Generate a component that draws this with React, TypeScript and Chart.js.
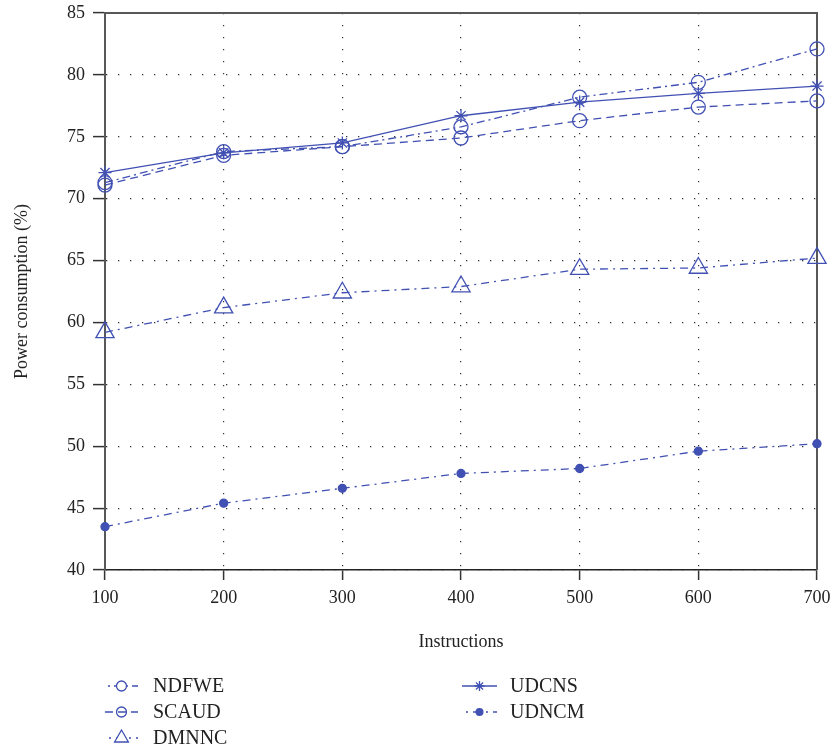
import React, { useEffect, useRef } from 'react';
import { Chart, registerables } from 'chart.js';

Chart.register(...registerables);

// ---- data ----
const instructions = [100, 200, 300, 400, 500, 600, 700];
const seriesNames = ['NDFWE', 'SCAUD', 'DMNNC', 'UDCNS', 'UDNCM'];
const ndfwe = [71.3, 73.8, 74.2, 75.8, 78.2, 79.4, 82.1];
const scaud = [71.1, 73.5, 74.2, 74.9, 76.3, 77.4, 77.9];
const dmnnc = [59.2, 61.2, 62.4, 62.9, 64.3, 64.4, 65.2];
const udcns = [72.1, 73.7, 74.5, 76.7, 77.8, 78.5, 79.1];
const udncm = [43.5, 45.4, 46.6, 47.8, 48.2, 49.6, 50.2];
const yMin = 40;
const yMax = 85;
const yStep = 5;
const xTitle = 'Instructions';
const yTitle = 'Power consumption (%)';

const BLUE = '#4050b3';
const FONT = '"Liberation Serif", "Times New Roman", serif';

type Sty = { dash: number[]; point: string; radius: number; filled: boolean; see?: boolean };
const styles: Sty[] = [
  { dash: [8, 4, 2, 4], point: 'circle', radius: 7, filled: false },
  { dash: [8, 5], point: 'circle', radius: 7, filled: false, see: true },
  { dash: [8, 5, 2, 5], point: 'triangle', radius: 10.5, filled: false },
  { dash: [], point: 'star', radius: 6.5, filled: false },
  { dash: [8, 5, 2, 5], point: 'circle', radius: 4, filled: true },
];
const values = [ndfwe, scaud, dmnnc, udcns, udncm];

function drawMarker(ctx: CanvasRenderingContext2D, s: Sty, x: number, y: number) {
  ctx.save();
  ctx.setLineDash([]);
  ctx.strokeStyle = BLUE;
  ctx.fillStyle = BLUE;
  ctx.lineWidth = 1.3;
  const r = s.radius;
  ctx.beginPath();
  if (s.point === 'circle') {
    ctx.arc(x, y, r, 0, Math.PI * 2);
    if (s.filled) ctx.fill();
    else {
      if (!s.see) {
        ctx.fillStyle = '#fff';
        ctx.fill();
      }
      ctx.stroke();
    }
  } else if (s.point === 'triangle') {
    let a = 0;
    ctx.moveTo(x + Math.sin(a) * r, y - Math.cos(a) * r);
    a += (2 * Math.PI) / 3;
    ctx.lineTo(x + Math.sin(a) * r, y - Math.cos(a) * r);
    a += (2 * Math.PI) / 3;
    ctx.lineTo(x + Math.sin(a) * r, y - Math.cos(a) * r);
    ctx.closePath();
    ctx.fillStyle = '#fff';
    ctx.fill();
    ctx.stroke();
  } else if (s.point === 'star') {
    for (let i = 0; i < 4; i++) {
      const a = (i * Math.PI) / 4;
      ctx.moveTo(x - Math.cos(a) * r, y - Math.sin(a) * r);
      ctx.lineTo(x + Math.cos(a) * r, y + Math.sin(a) * r);
    }
    ctx.stroke();
  }
  ctx.restore();
}

const decorPlugin = {
  id: 'decor',
  beforeDatasetsDraw(chart: any) {
    const { ctx, chartArea: a } = chart;
    ctx.save();
    ctx.strokeStyle = '#585858';
    ctx.lineWidth = 2;
    ctx.beginPath();
    ctx.moveTo(a.left, a.top);
    ctx.lineTo(a.right, a.top);
    ctx.lineTo(a.right, a.bottom);
    ctx.stroke();
    ctx.restore();
  },
  afterDraw(chart: any) {
    const { ctx, chartArea: a } = chart;
    ctx.save();
    ctx.fillStyle = '#222';
    ctx.font = `18px ${FONT}`;
    ctx.textAlign = 'center';
    ctx.textBaseline = 'middle';
    ctx.fillText(xTitle, (a.left + a.right) / 2, 642);
    ctx.save();
    ctx.translate(22, (a.top + a.bottom) / 2);
    ctx.rotate(-Math.PI / 2);
    ctx.fillText(yTitle, 0, 0);
    ctx.restore();

    // legend
    const cols = [
      { x0: 105, x1: 138, tx: 153 },
      { x0: 462, x1: 497, tx: 510 },
    ];
    const rows = [686, 712, 738];
    const place = [
      [0, 0],
      [0, 1],
      [0, 2],
      [1, 0],
      [1, 1],
    ];
    ctx.textAlign = 'left';
    ctx.font = `20px ${FONT}`;
    seriesNames.forEach((name, i) => {
      const c = cols[place[i][0]];
      const y = rows[place[i][1]];
      const s = styles[i];
      ctx.save();
      ctx.strokeStyle = BLUE;
      ctx.lineWidth = 1.3;
      ctx.setLineDash(s.dash.length ? s.dash : []);
      ctx.lineDashOffset = s.dash.length === 4 ? 9 : 0;
      ctx.beginPath();
      ctx.moveTo(c.x0, y);
      ctx.lineTo(c.x1, y);
      ctx.stroke();
      ctx.restore();
      drawMarker(ctx, { ...s, radius: s.point === 'triangle' ? 8 : s.filled ? 4 : 5 }, (c.x0 + c.x1) / 2, y);
      ctx.fillStyle = '#222';
      ctx.fillText(name, c.tx, y + 1);
    });
    ctx.restore();
  },
};

export default function App() {
  const ref = useRef<HTMLCanvasElement | null>(null);
  useEffect(() => {
    if (!ref.current) return;
    const yTicks: number[] = [];
    for (let v = yMin; v <= yMax; v += yStep) yTicks.push(v);
    const chart = new Chart(ref.current, {
      type: 'line',
      data: {
        datasets: seriesNames.map((name, i) => ({
          label: name,
          data: instructions.map((x, j) => ({ x, y: values[i][j] })),
          borderColor: BLUE,
          borderWidth: 1.3,
          borderDash: styles[i].dash,
          pointStyle: styles[i].point as any,
          pointRadius: styles[i].radius,
          pointBorderWidth: 1.3,
          pointBorderColor: BLUE,
          pointBackgroundColor: styles[i].filled ? BLUE : 'rgba(0,0,0,0)',
          tension: 0,
          clip: false as any,
        })),
      },
      options: {
        responsive: false,
        animation: false,
        layout: { padding: { top: 13, right: 20, left: 0, bottom: 0 } },
        plugins: { legend: { display: false }, tooltip: { enabled: false } },
        scales: {
          x: {
            type: 'linear',
            min: 100,
            max: 700,
            afterFit: (s: any) => {
              s.height = 184;
              s.paddingLeft = 0;
              s.paddingRight = 0;
            },
            ticks: {
              stepSize: 100,
              color: '#222',
              font: { family: FONT, size: 18 },
              padding: 7,
            },
            grid: {
              color: '#333',
              lineWidth: 1.2,
              tickLength: 10,
              tickColor: '#333',
              tickWidth: 1.5,
              tickBorderDash: [],
            } as any,
            border: { display: true, color: '#222', width: 1.5, dash: [1.3, 10.7] } as any,
          },
          y: {
            type: 'linear',
            min: yMin,
            max: yMax,
            afterFit: (s: any) => {
              s.width = 105;
              s.paddingTop = 0;
              s.paddingBottom = 0;
            },
            afterBuildTicks: (s: any) => {
              s.ticks = yTicks.map((v) => ({ value: v }));
            },
            ticks: {
              color: '#222',
              font: { family: FONT, size: 18 },
              padding: 8,
            },
            grid: {
              color: '#333',
              lineWidth: 1.2,
              tickLength: 12,
              tickColor: '#333',
              tickWidth: 1.5,
              tickBorderDash: [],
            } as any,
            border: { display: true, color: '#585858', width: 2, dash: [1.3, 10.7] } as any,
          },
        },
      },
      plugins: [decorPlugin],
    });
    return () => chart.destroy();
  }, []);
  return (
    <div style={{ position: 'fixed', left: 0, top: 0, width: 837, height: 754, background: '#fff' }}>
      <canvas ref={ref} width={837} height={754} style={{ width: 837, height: 754, display: 'block' }} />
    </div>
  );
}
